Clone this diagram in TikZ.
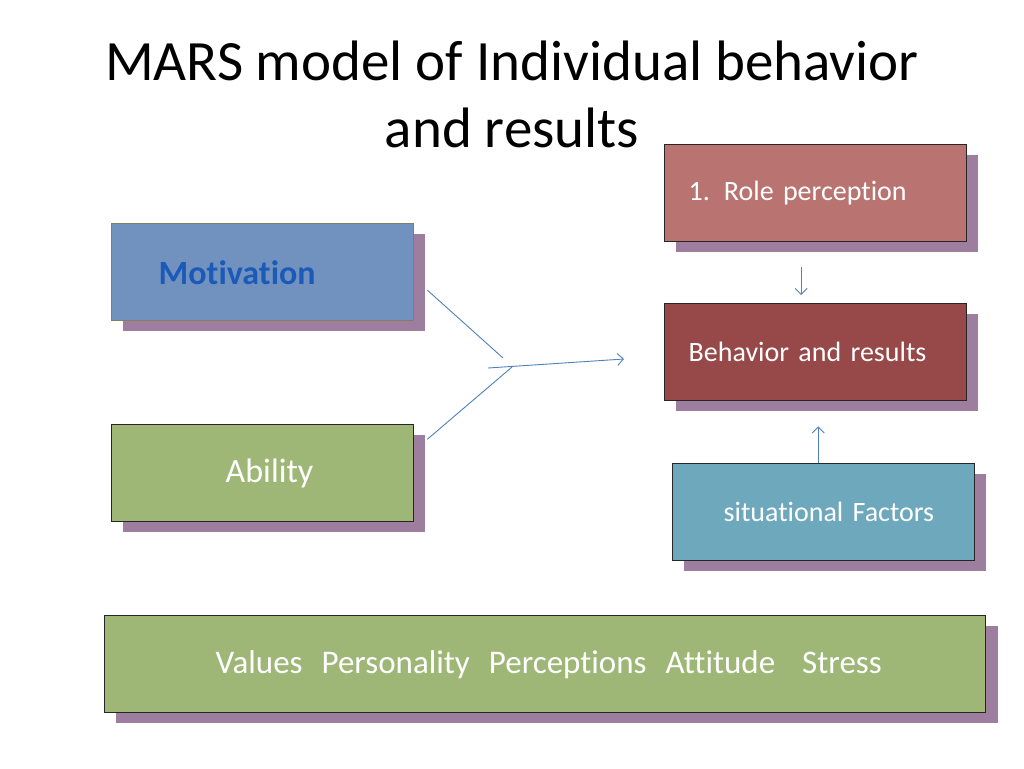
\documentclass[tikz,border=0pt]{standalone}
\usepackage{fontspec}
\setmainfont{Carlito}[Ligatures=NoCommon]
\usetikzlibrary{shadows,calc,arrows.meta}
\tikzset{% open arrow tips
    >={Straight Barb[length=6pt,width=12pt]}
}
\definecolor{motblue}{RGB}{113,146,190}
\definecolor{motborder}{RGB}{128,128,96}
\definecolor{mottext}{RGB}{28,90,185}
\definecolor{abgreen}{RGB}{158,183,118}
\definecolor{rolered}{RGB}{185,115,112}
\definecolor{behred}{RGB}{150,73,72}
\definecolor{sitblue}{RGB}{110,168,188}
\definecolor{shadowpurple}{RGB}{158,126,158}
\definecolor{lineblue}{RGB}{79,129,189}

\begin{document}
\begin{tikzpicture}[x=1pt,y=-1pt]
		\newcommand{\boxw}{302}
		\newcommand{\boxh}{97}
		\newcommand{\gap}{\hspace{19pt}}
		\tikzset{
			block/.style={draw=black!85, line width=1.4pt, anchor=north west,
				minimum height=\boxh pt, text width=\boxw pt, inner xsep=0pt,
				align=left, text=white, font=\fontsize{28}{32}\selectfont,
				drop shadow={shadow xshift=11pt, shadow yshift=-10pt,
					fill=shadowpurple, opacity=1}},
			link/.style={draw=lineblue, line width=0.9pt}
		}

		% page
		\fill[white] (0,0) rectangle (1024,768);

		% title
		\node[anchor=north, inner sep=0pt, align=center,
			font=\fontsize{57}{67}\selectfont] (title) at (512,41)
			{MARS model of Individual behavior\\and results};

		% left blocks
		\node[block, fill=motblue, draw=motborder, text=mottext,
			font=\fontsize{34}{38}\selectfont\bfseries] (mot) at (111,223)
			{\hspace*{47pt}Motivation};
		\node[block, fill=abgreen, font=\fontsize{34}{38}\selectfont] (abil) at (111,424)
			{\hspace*{114pt}Ability};

		% right blocks
		\node[block, fill=rolered] (role) at (664,144)
			{\hspace*{24pt}1.\hspace{14pt}Role perception};
		\node[block, fill=behred] (beh) at (664,303)
			{\hspace*{24pt}Behavior and results};
		\node[block, fill=sitblue] (sit) at (672,463)
			{\hspace*{51pt}situational Factors};

		% bottom block
		\node[block, text width=881pt, font=\fontsize{33}{37}\selectfont,
			fill=abgreen, drop shadow={shadow xshift=12pt, shadow yshift=-10pt,
				fill=shadowpurple, opacity=1}] (traits) at (104,615)
			{\hspace*{111pt}Values\gap Personality\gap Perceptions\gap Attitude\hspace{27pt}Stress};

		% junction points
		\coordinate (mj) at (503,358);
		\coordinate (aj) at (512,367);
		\coordinate (jin) at (488,368);
		\coordinate (jout) at (624,359);

		% connectors
		\draw[link] ($(mot.east)+(13,18)$) -- (mj);
		\draw[link] ($(abil.east)+(13,-34)$) -- (aj);
		\draw[link,->] (jin) -- (jout);
		\draw[link,->] ($(role.south)+(-14.5,25)$) -- ($(beh.north)+(-14.5,-8)$);
		\draw[link,->] ($(sit.north)+(-5.5,0)$) -- ($(beh.south)+(2.5,25)$);

\end{tikzpicture}
\end{document}
